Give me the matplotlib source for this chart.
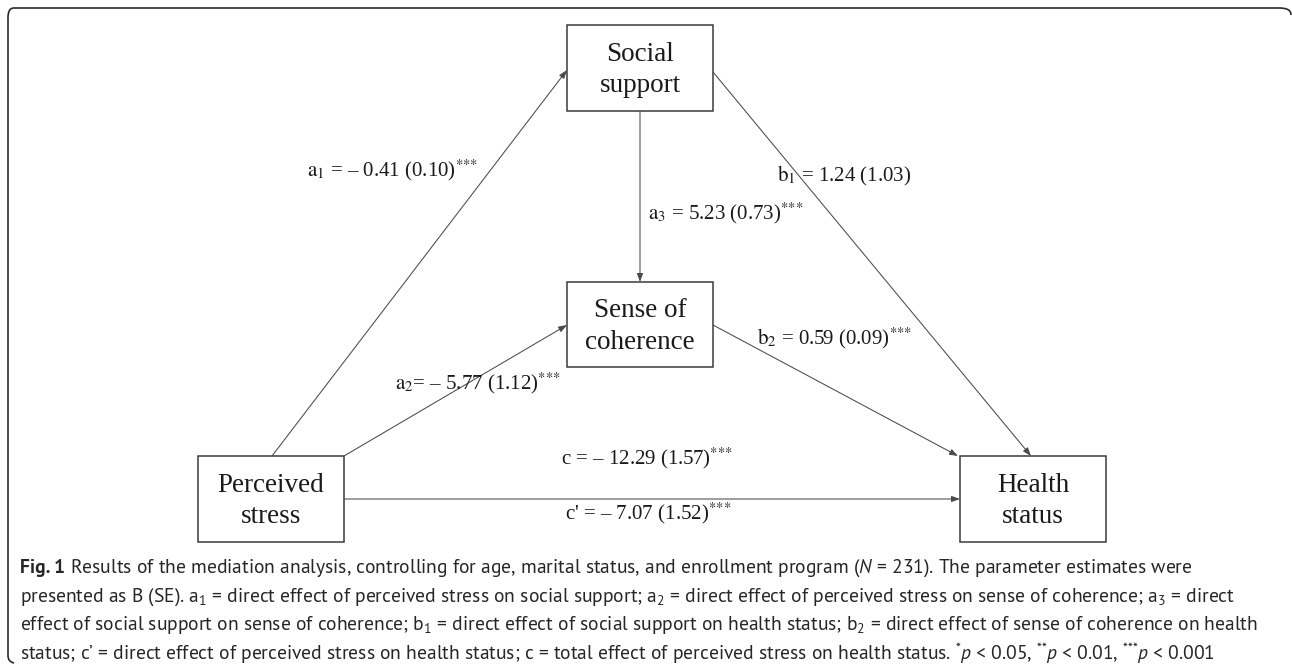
import matplotlib
matplotlib.use("Agg")
import matplotlib.pyplot as plt
from matplotlib.patches import Rectangle, PathPatch
from matplotlib.path import Path

# path coefficients B (SE)
paths = ["a_1", "a_2", "a_3", "b_1", "b_2", "c", "c'"]
estimates = [-0.41, -5.77, 5.23, 1.24, 0.59, -12.29, -7.07]
std_errs = [0.10, 1.12, 0.73, 1.03, 0.09, 1.57, 1.52]
signif = ["***", "***", "***", "", "***", "***", "***"]

nodes = ["Social\nsupport", "Sense of\ncoherence", "Perceived\nstress", "Health\nstatus"]

caption_lines = [
    [("Fig. 1", "bold"), (" Results of the mediation analysis, controlling for age, marital status, and enrollment program ($N$ = 231). The parameter estimates were", "normal")],
    [("presented as B (SE). $\\mathrm{a}_1$ = direct effect of perceived stress on social support; $\\mathrm{a}_2$ = direct effect of perceived stress on sense of coherence; $\\mathrm{a}_3$ = direct", "normal")],
    [("effect of social support on sense of coherence; $\\mathrm{b}_1$ = direct effect of social support on health status; $\\mathrm{b}_2$ = direct effect of sense of coherence on health", "normal")],
    [("status; c\u2019 = direct effect of perceived stress on health status; c = total effect of perceived stress on health status. $^{*}p$ < 0.05, $^{{*}{*}}p$ < 0.01, $^{{*}{*}{*}}p$ < 0.001", "normal")],
]

CAP_FONT = "PT Sans"
plt.rcParams["mathtext.fontset"] = "custom"
plt.rcParams["mathtext.rm"] = CAP_FONT
plt.rcParams["mathtext.it"] = CAP_FONT + ":italic"
plt.rcParams["mathtext.bf"] = CAP_FONT + ":bold"

fig = plt.figure(figsize=(12.92, 6.66), dpi=100)
ax = fig.add_axes([0, 0, 1, 1])
ax.set_xlim(0, 1292)
ax.set_ylim(666, 0)
ax.axis("off")

# outer frame (top + left, rounded corners)
verts = [(1291, 15), (1291, 9), (1285, 8), (1279, 8), (14, 8), (9, 8), (8, 13), (8, 18),
         (8, 655), (8, 660), (10, 662), (14, 663)]
codes = [Path.MOVETO, Path.CURVE4, Path.CURVE4, Path.CURVE4, Path.LINETO, Path.CURVE4, Path.CURVE4,
         Path.CURVE4, Path.LINETO, Path.CURVE4, Path.CURVE4, Path.CURVE4]
ax.add_patch(PathPatch(Path(verts, codes), fill=False, ec="#2b2b2b", lw=1.2))

# boxes
box_pos = [(567, 25, 713, 111), (567, 282, 713, 367), (198, 456, 344, 542), (960, 456, 1106, 542)]
for name, (x0, y0, x1, y1) in zip(nodes, box_pos):
    ax.add_patch(Rectangle((x0, y0), x1 - x0, y1 - y0, fill=False, ec="#3a3a3a", lw=1.1, zorder=3))
    ax.text((x0 + x1) / 2, (y0 + y1) / 2 + 2, name, ha="center", va="center", fontsize=19.5,
            family="Liberation Serif", color="#1a1a1a", linespacing=1.35, zorder=4)

# arrows
arrow_ends = {
    "a_1": ((272, 456), (567, 70)),
    "a_2": ((344, 456), (567, 325)),
    "a_3": ((640, 111), (640, 282)),
    "b_1": ((713, 72), (1031, 456)),
    "b_2": ((713, 325), (958, 456)),
    "c": ((344, 499), (960, 499)),
}
for p, (s, e) in arrow_ends.items():
    ax.annotate("", xy=e, xytext=s,
                arrowprops=dict(arrowstyle="-|>,head_length=0.5,head_width=0.18", color="#4a4a4a",
                                lw=0.75, shrinkA=0, shrinkB=0))

# labels
label_pos = {
    "a_1": (393, 170, "center"),
    "a_2": (561, 383, "right"),
    "a_3": (648, 213, "left"),
    "b_1": (777, 176, "left"),
    "b_2": (757, 338, "left"),
    "c": (647, 458, "center"),
    "c'": (648, 513, "center"),
}
for p, est, se, sg in zip(paths, estimates, std_errs, signif):
    if "_" in p:
        sym = "$\\mathrm{%s}_{%s}$" % tuple(p.split("_"))
    else:
        sym = p
    eq = "= " if p == "a_2" else " = "
    val = f"\u2013 {abs(est):.2f}" if est < 0 else f"{est:.2f}"
    s = f"{sym}{eq}{val} ({se:.2f})"
    if sg:
        s += "$^{%s}$" % "".join("{*}" for _ in sg)
    x, y, ha = label_pos[p]
    ax.text(x, y, s, ha=ha, va="center", fontsize=15, family="Liberation Serif",
            math_fontfamily="stix", color="#1a1a1a")

# caption, drawn segment by segment
renderer = fig.canvas.get_renderer()
line_y = [568, 597, 625, 653]
for segs, y in zip(caption_lines, line_y):
    x = 20
    for s, w in segs:
        t = ax.text(x, y, s, ha="left", va="center", fontsize=14, family=CAP_FONT, weight=w,
                    math_fontfamily="custom", color="#262626")
        bb = t.get_window_extent(renderer)
        x += bb.width

fig.savefig("out.png", dpi=100)
